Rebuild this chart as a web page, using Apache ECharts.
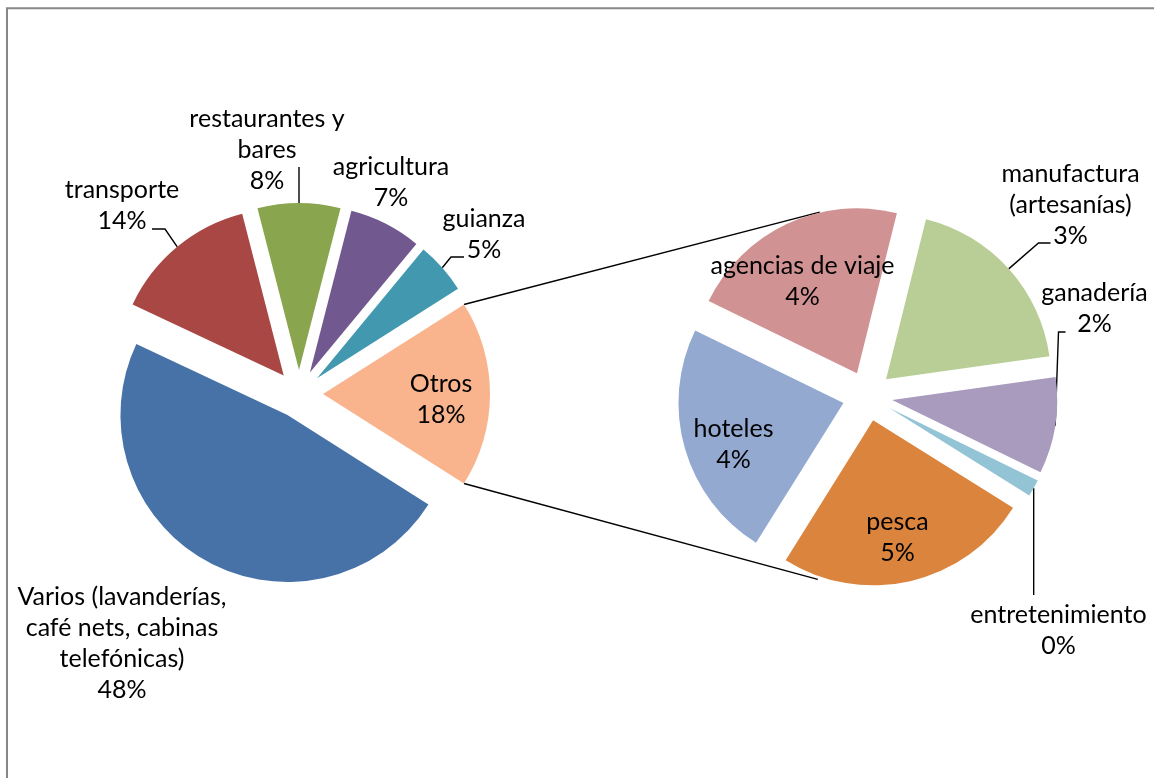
<!DOCTYPE html>
<html>
<head>
<meta charset="utf-8">
<script src="https://cdn.jsdelivr.net/npm/echarts@6/dist/echarts.min.js"></script>
<style>
html, body { margin: 0; padding: 0; background: #ffffff; }
#chart { width: 1154px; height: 778px; }
</style>
</head>
<body>
<div id="chart"></div>
<script>
// ---------------- DATA ----------------
const otherCategory = 'Otros';
const mainCategories = ['Varios (lavanderías,\ncafé nets, cabinas\ntelefónicas)', 'transporte', 'restaurantes y\nbares', 'agricultura', 'guianza'];
const mainValues = [48, 14, 8, 7, 5];
const subCategories = ['agencias de viaje', 'manufactura\n(artesanías)', 'ganadería', 'entretenimiento', 'pesca', 'hoteles'];
const subValues = [3.9, 3.4, 1.7, 0.3, 4.5, 4.2];

// ---------------- STYLE / LAYOUT ----------------
const FONT = 'Lato';
const FONT_SIZE = 25;
const LINE_H = 31;
const mainColors = ['#F9B48E', '#4672A7', '#A94744', '#89A54E', '#71598F', '#4198AF'];
const subColors = ['#D09292', '#B9CE96', '#A99BBD', '#92C4D6', '#DB843D', '#93A9D0'];

const otrosValue = subValues.reduce((a, b) => a + b, 0);
const mainNames = [otherCategory].concat(mainCategories);
const mainData = [otrosValue].concat(mainValues);

const mainCfg = {
  center: [299, 394], radius: 167, explode: 24,
  // "Otros" slice centred on 3 o'clock
  startClock: 90 - (otrosValue / mainData.reduce((a, b) => a + b, 0)) * 180,
  labelOffsets: [[142, 5], [-177, 249], [-177, -189], [-32, -244], [92, -212], [185, -160]],
  leaders: [null, null, { end: [30, 24], tail: 13 }, { end: [32, 17], tail: 0 }, null, { end: [-20, 23], tail: -13 }]
};
const subCfg = {
  center: [867.5, 396], radius: 165, explode: 25,
  startClock: 296,
  labelOffsets: [[-65, -115], [203, -191], [227, -88], [191, 234], [30, 141], [-134, 48]],
  leaders: [null, { end: [-20, 38], tail: -12 }, { end: [-29, 24], tail: -7 }, { end: [-25, -35], tail: 0 }, null, null]
};

const RAD = Math.PI / 180;
function dirOf(clockDeg) { return [Math.sin(clockDeg * RAD), -Math.cos(clockDeg * RAD)]; }

function sliceGeom(values, cfg) {
  const total = values.reduce((a, b) => a + b, 0);
  let acc = 0;
  return values.map(v => {
    const a0 = cfg.startClock + acc / total * 360;
    acc += v;
    const a1 = cfg.startClock + acc / total * 360;
    const mid = (a0 + a1) / 2;
    const u = dirOf(mid);
    const c = [cfg.center[0] + cfg.explode * u[0], cfg.center[1] + cfg.explode * u[1]];
    return { a0, a1, mid, center: c, arcMid: [c[0] + cfg.radius * u[0], c[1] + cfg.radius * u[1]] };
  });
}

function buildSeries(names, values, colors, cfg) {
  const geom = sliceGeom(values, cfg);
  return values.map((_, i) => ({
    type: 'pie',
    silent: true,
    animation: false,
    center: geom[i].center,
    radius: [0, cfg.radius],
    startAngle: 90 - cfg.startClock,
    clockwise: true,
    avoidLabelOverlap: false,
    minAngle: 0,
    itemStyle: { borderWidth: 0 },
    emphasis: { disabled: true },
    label: {
      position: 'outside',
      color: '#000000',
      fontFamily: FONT,
      fontSize: FONT_SIZE,
      lineHeight: LINE_H,
      formatter: p => p.name + '\n' + Math.round(p.value) + '%'
    },
    labelLine: { lineStyle: { color: '#000000', width: 1.4 } },
    labelLayout: params => {
      const j = params.dataIndex;
      const off = cfg.labelOffsets[j];
      const lx = cfg.center[0] + off[0];
      const ly = cfg.center[1] + off[1];
      const res = { x: lx, y: ly, align: 'center', verticalAlign: 'middle' };
      const ld = cfg.leaders[j];
      if (ld) {
        const m = geom[j].arcMid;
        const end = [lx + ld.end[0], ly + ld.end[1]];
        if (ld.tail) {
          res.labelLinePoints = [m.slice(), [end[0] + ld.tail, end[1]], end];
        } else {
          res.labelLinePoints = [m.slice(), [m[0], end[1]], [m[0], end[1]]];
        }
      }
      return res;
    },
    data: values.map((v, j) => ({
      name: names[j],
      value: v,
      itemStyle: { color: j === i ? colors[j] : 'rgba(0,0,0,0)', borderWidth: 0 },
      label: { show: j === i },
      labelLine: { show: j === i && !!cfg.leaders[j] }
    }))
  }));
}

const mainGeom = sliceGeom(mainData, mainCfg);
const otros = mainGeom[0];

// connector lines: from Otros' outer corners, tangent to the exploded second pie
function tangentPoint(P, C, R, upper) {
  const vx = P[0] - C[0], vy = P[1] - C[1];
  const D = Math.hypot(vx, vy);
  const base = Math.atan2(vy, vx);
  const alpha = Math.acos(R / D);
  const t1 = [C[0] + R * Math.cos(base + alpha), C[1] + R * Math.sin(base + alpha)];
  const t2 = [C[0] + R * Math.cos(base - alpha), C[1] + R * Math.sin(base - alpha)];
  if (upper) return t1[1] < t2[1] ? t1 : t2;
  return t1[1] > t2[1] ? t1 : t2;
}
function corner(g, ang, r) { const u = dirOf(ang); return [g.center[0] + r * u[0], g.center[1] + r * u[1]]; }
const pTop = corner(otros, otros.a0, mainCfg.radius);
const pBot = corner(otros, otros.a1, mainCfg.radius);
const R2 = subCfg.radius + subCfg.explode;
const tTop = tangentPoint(pTop, subCfg.center, R2, true);
const tBot = tangentPoint(pBot, subCfg.center, R2, false);

const chart = echarts.init(document.getElementById('chart'), null, { renderer: 'canvas' });
chart.setOption({
  backgroundColor: '#ffffff',
  animation: false,
  textStyle: { fontFamily: FONT },
  graphic: [
    { type: 'rect', shape: { x: 7, y: 8.3, width: 2000, height: 2000 }, style: { fill: 'none', stroke: '#878787', lineWidth: 2 }, silent: true },
    { type: 'line', shape: { x1: pTop[0], y1: pTop[1], x2: tTop[0], y2: tTop[1] }, style: { stroke: '#000000', lineWidth: 1.4 }, silent: true },
    { type: 'line', shape: { x1: pBot[0], y1: pBot[1], x2: tBot[0], y2: tBot[1] }, style: { stroke: '#000000', lineWidth: 1.4 }, silent: true }
  ],
  series: buildSeries(mainNames, mainData, mainColors, mainCfg)
    .concat(buildSeries(subCategories, subValues, subColors, subCfg))
});
</script>
</body>
</html>
